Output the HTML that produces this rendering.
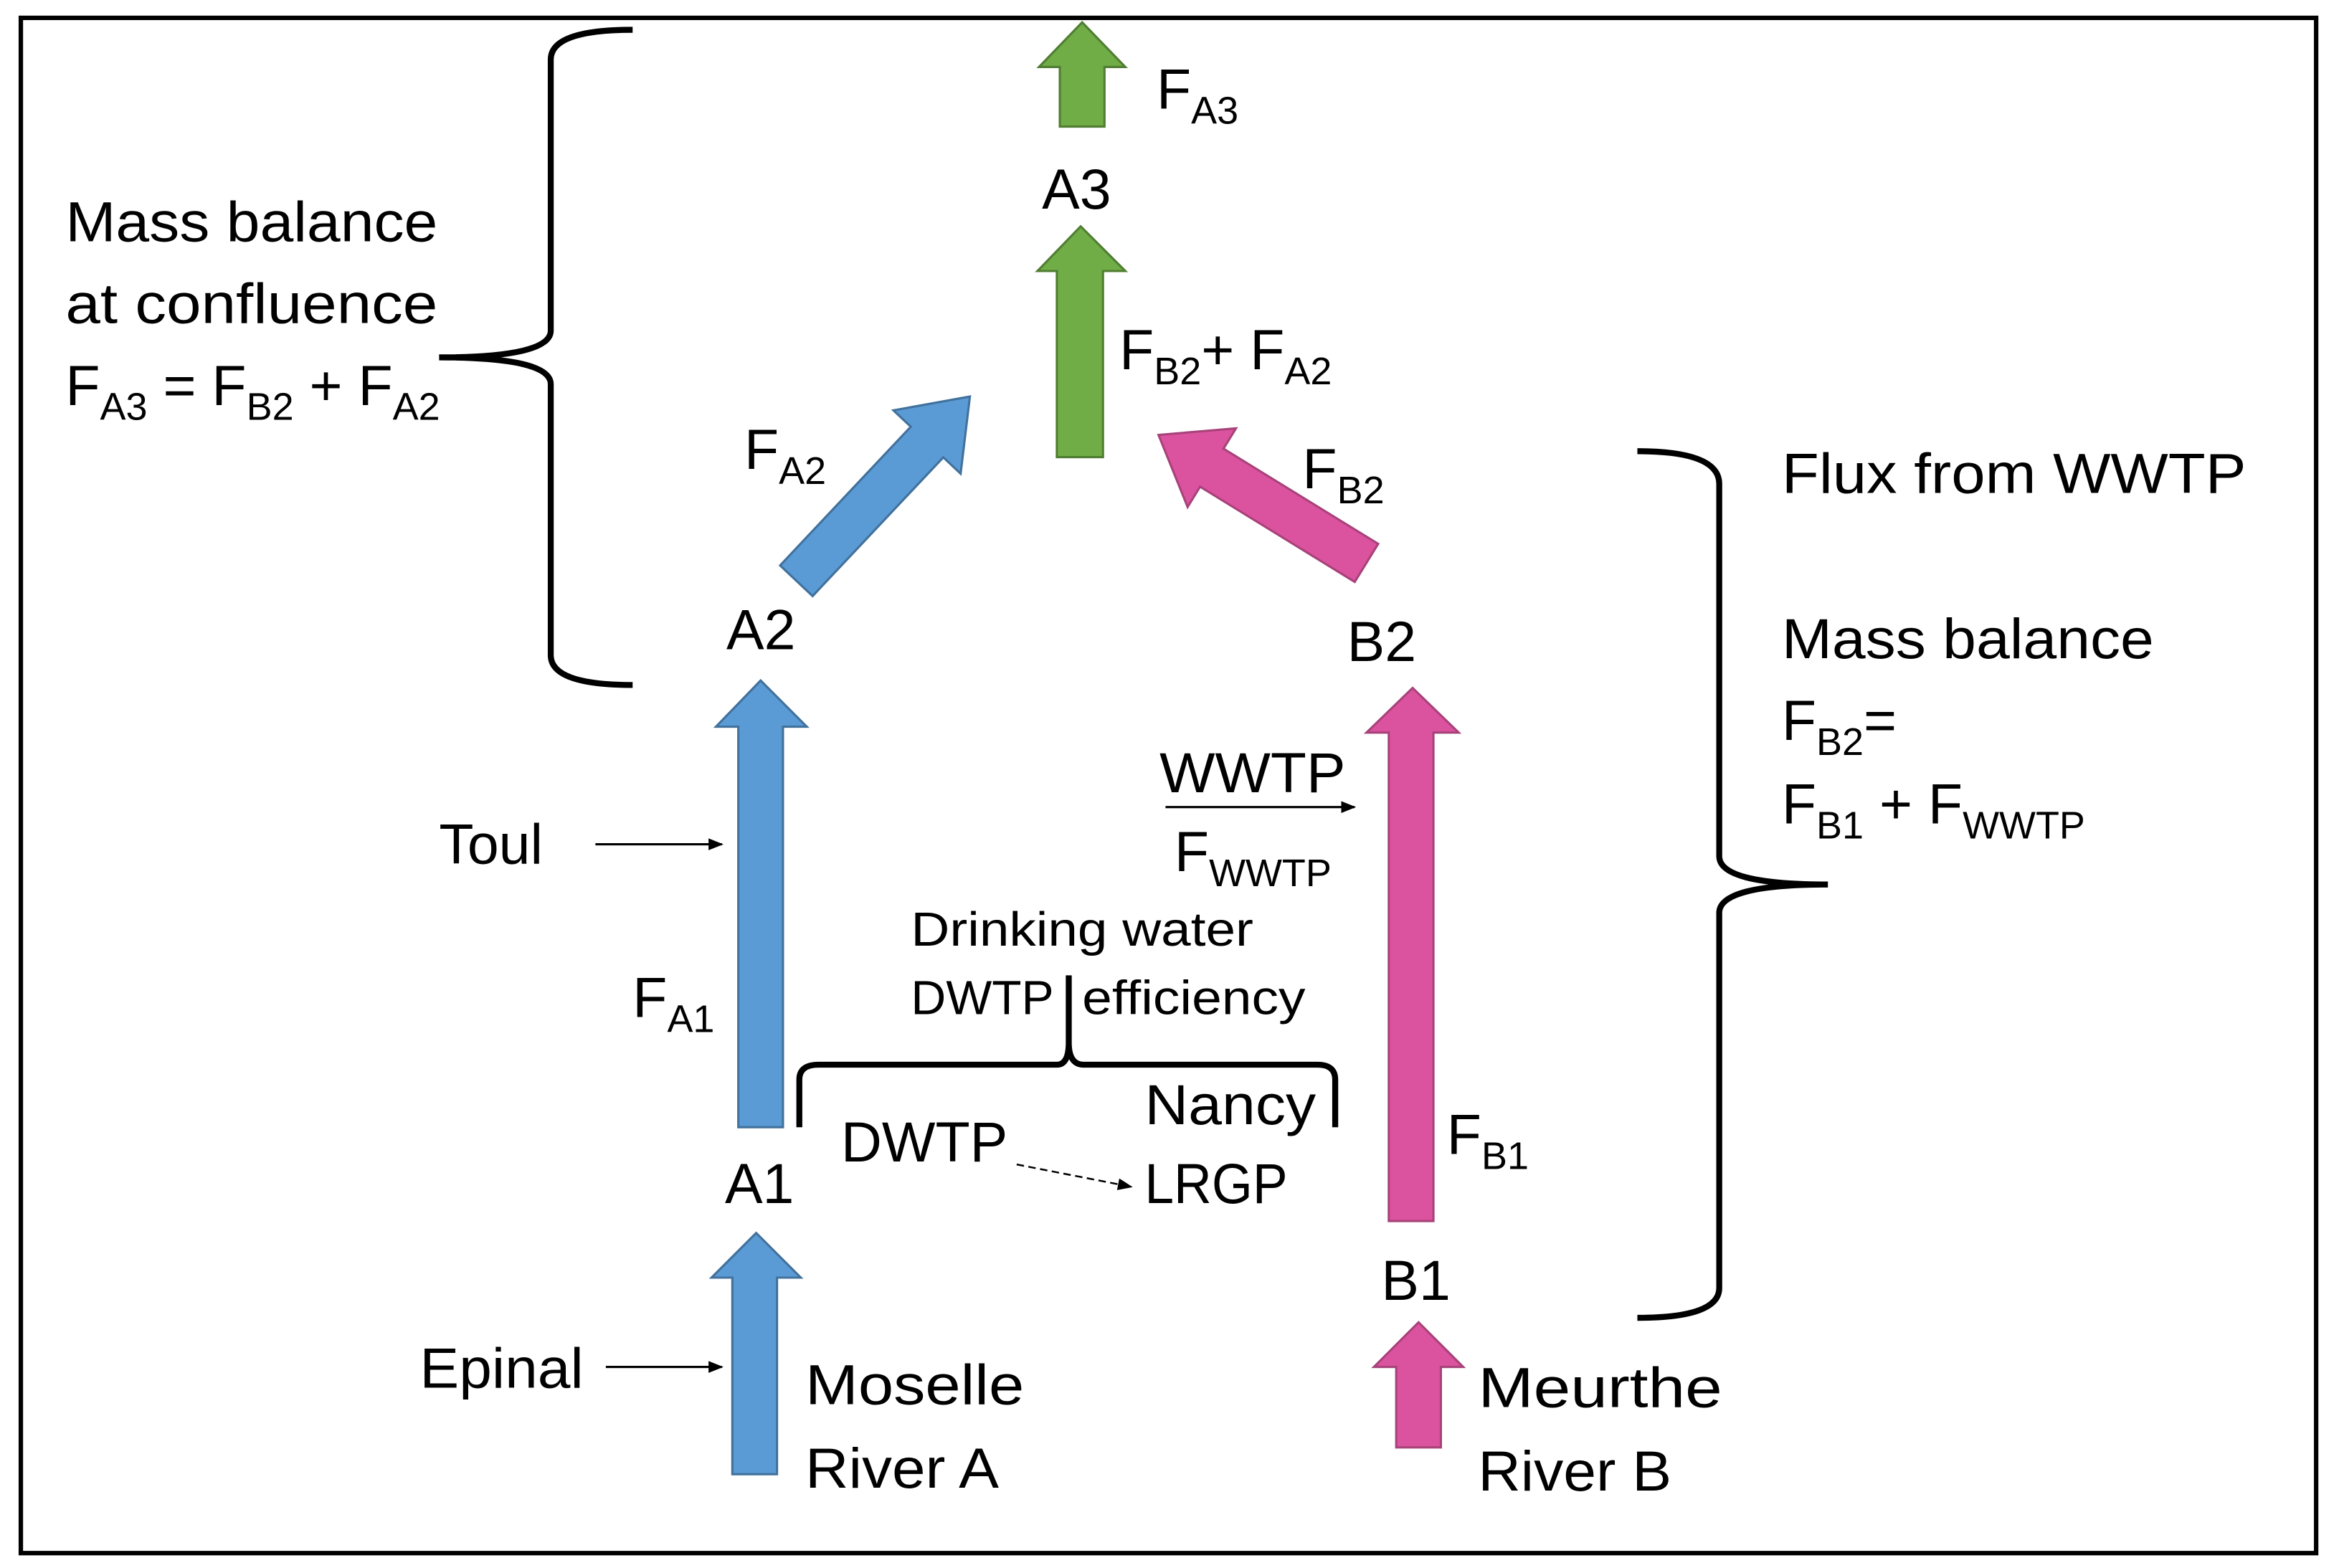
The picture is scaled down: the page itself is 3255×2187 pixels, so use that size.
<!DOCTYPE html>
<html><head><meta charset="utf-8"><style>
html,body{margin:0;padding:0;background:#fff}
svg{display:block}
text{font-family:"Liberation Sans",sans-serif;fill:#000}
</style></head><body>
<svg width="3255" height="2187" viewBox="0 0 1568 1053" preserveAspectRatio="none" xmlns="http://www.w3.org/2000/svg">
<defs>
<marker id="ah" markerWidth="10" markerHeight="8" refX="9" refY="4" orient="auto" markerUnits="userSpaceOnUse"><path d="M0,0 L10,4 L0,8z" fill="#000"/></marker>
</defs>
<rect x="14" y="12" width="1542" height="1031" fill="#fff" stroke="#000" stroke-width="3"/>

<!-- blue arrows -->
<g fill="#5B9BD5" stroke="#41719C" stroke-width="1.5">
<polygon points="492,990 522,990 522,858 538,858 508,828 478,858 492,858"/>
<polygon points="496,757 526,757 526,488 542,488 511,457 481,488 496,488"/>
<polygon points="0,-15 128,-15 128,-31 170,0 128,31 128,15 0,15" transform="translate(535,390) rotate(-46.7)"/>
</g>
<!-- green arrows -->
<g fill="#70AD47" stroke="#507E32" stroke-width="1.5">
<polygon points="712,85 742,85 742,45 756,45 727,15 698,45 712,45"/>
<polygon points="710,307 741,307 741,182 756,182 726,152 697,182 710,182"/>
</g>
<!-- pink arrows -->
<g fill="#DB539E" stroke="#A8427A" stroke-width="1.5">
<polygon points="938,972 968,972 968,918 983,918 953,888 923,918 938,918"/>
<polygon points="933,820 963,820 963,492 980,492 949,462 918,492 933,492"/>
<polygon points="0,-15 122,-15 122,-31 164,0 122,31 122,15 0,15" transform="translate(918,378) rotate(-148.4)"/>
</g>

<!-- braces -->
<g fill="none" stroke="#000" stroke-width="4">
<path d="M425,20 Q370,20 370,40 L370,222 Q370,240 295,240 Q370,240 370,258 L370,440 Q370,460 425,460"/>
<path d="M1100,303 Q1155,303 1155,325 L1155,575 Q1155,594 1228,594 Q1155,594 1155,613 L1155,865 Q1155,885 1100,885"/>
<path d="M537,757 L537,725 Q537,715 550,715 L710,715 Q718,715 718,700 L718,655 M718,700 Q718,715 728,715 L885,715 Q897,715 897,725 L897,757"/>
</g>

<!-- small arrows -->
<g stroke="#000" stroke-width="1.5">
<line x1="400" y1="567" x2="485" y2="567" marker-end="url(#ah)"/>
<line x1="407" y1="918" x2="485" y2="918" marker-end="url(#ah)"/>
<line x1="783" y1="542" x2="910" y2="542" marker-end="url(#ah)"/>
<line x1="683" y1="782" x2="760" y2="797" stroke-dasharray="5,3" stroke-width="1.2" marker-end="url(#ah)"/>
</g>

<g font-size="38">
<text x="44" y="162" textLength="250" lengthAdjust="spacingAndGlyphs">Mass balance</text>
<text x="44" y="217" textLength="250" lengthAdjust="spacingAndGlyphs">at confluence</text>
<text x="44" y="272">F<tspan font-size="26" dy="10">A3</tspan><tspan dy="-10"> = F</tspan><tspan font-size="26" dy="10">B2</tspan><tspan dy="-10"> + F</tspan><tspan font-size="26" dy="10">A2</tspan></text>

<text x="777" y="73">F<tspan font-size="26" dy="10">A3</tspan></text>
<text x="700" y="140">A3</text>
<text x="752" y="248">F<tspan font-size="26" dy="10">B2</tspan><tspan dy="-10">+ F</tspan><tspan font-size="26" dy="10">A2</tspan></text>
<text x="500" y="315">F<tspan font-size="26" dy="10">A2</tspan></text>
<text x="875" y="328">F<tspan font-size="26" dy="10">B2</tspan></text>
<text x="488" y="436">A2</text>
<text x="905" y="444">B2</text>

<text x="1197" y="331" textLength="312" lengthAdjust="spacingAndGlyphs">Flux from WWTP</text>
<text x="1197" y="442" textLength="250" lengthAdjust="spacingAndGlyphs">Mass balance</text>
<text x="1197" y="497">F<tspan font-size="26" dy="10">B2</tspan><tspan dy="-10">=</tspan></text>
<text x="1197" y="553">F<tspan font-size="26" dy="10">B1</tspan><tspan dy="-10"> + F</tspan><tspan font-size="26" dy="10">WWTP</tspan></text>

<text x="779" y="532" textLength="125" lengthAdjust="spacingAndGlyphs">WWTP</text>
<text x="789" y="585">F<tspan font-size="26" dy="10">WWTP</tspan></text>
<text x="295" y="580">Toul</text>
<text x="425" y="683">F<tspan font-size="26" dy="10">A1</tspan></text>
<text x="972" y="775">F<tspan font-size="26" dy="10">B1</tspan></text>
<text x="769" y="755" textLength="115" lengthAdjust="spacingAndGlyphs">Nancy</text>
<text x="565" y="780" textLength="112" lengthAdjust="spacingAndGlyphs">DWTP</text>
<text x="487" y="808">A1</text>
<text x="769" y="808" textLength="96" lengthAdjust="spacingAndGlyphs">LRGP</text>
<text x="928" y="873">B1</text>
<text x="282" y="932" textLength="110" lengthAdjust="spacingAndGlyphs">Epinal</text>
<text x="541" y="943" textLength="147" lengthAdjust="spacingAndGlyphs">Moselle</text>
<text x="541" y="999" textLength="130" lengthAdjust="spacingAndGlyphs">River A</text>
<text x="993" y="945" textLength="164" lengthAdjust="spacingAndGlyphs">Meurthe</text>
<text x="993" y="1001" textLength="130" lengthAdjust="spacingAndGlyphs">River B</text>
</g>
<g font-size="32">
<text x="612" y="635" textLength="230" lengthAdjust="spacingAndGlyphs">Drinking water</text>
<text x="612" y="681" textLength="96" lengthAdjust="spacingAndGlyphs">DWTP</text>
<text x="727" y="681" textLength="150" lengthAdjust="spacingAndGlyphs">efficiency</text>
</g>
</svg>
</body></html>
